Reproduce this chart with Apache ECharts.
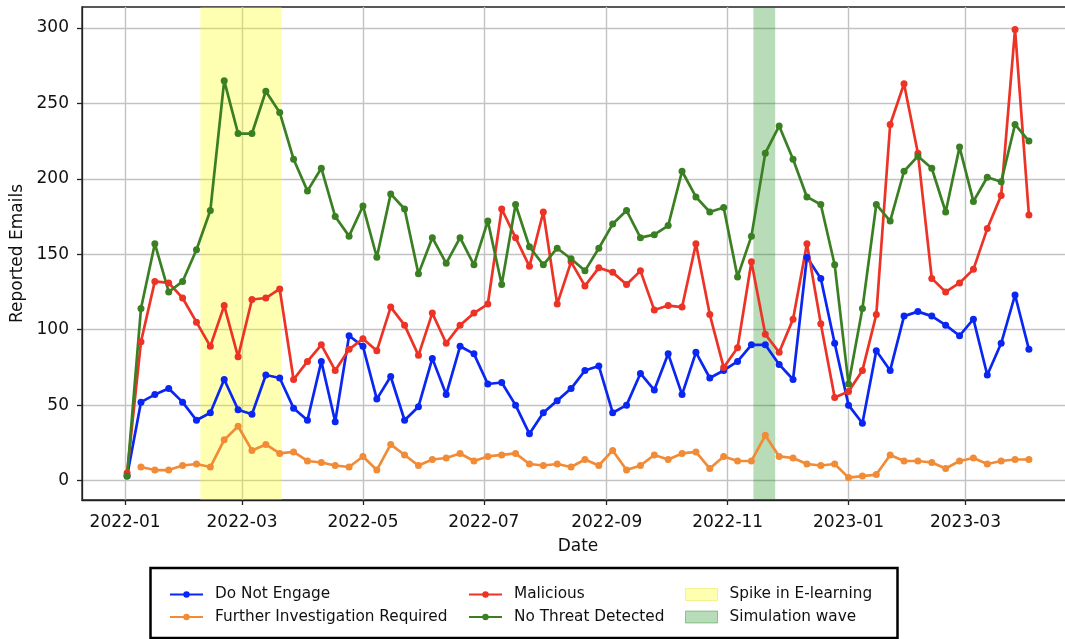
<!DOCTYPE html>
<html>
<head>
<meta charset="utf-8">
<script src="https://cdn.jsdelivr.net/npm/echarts@6/dist/echarts.min.js"></script>
<style>
  html, body { margin: 0; padding: 0; background: #fff; }
  #chart { width: 1065px; height: 639px; }
</style>
</head>
<body>
<div id="chart"></div>
<script>
// weekly report dates
var dates = [
  '2022-01-02','2022-01-09','2022-01-16','2022-01-23','2022-01-30',
  '2022-02-06','2022-02-13','2022-02-20','2022-02-27',
  '2022-03-06','2022-03-13','2022-03-20','2022-03-27',
  '2022-04-03','2022-04-10','2022-04-17','2022-04-24',
  '2022-05-01','2022-05-08','2022-05-15','2022-05-22','2022-05-29',
  '2022-06-05','2022-06-12','2022-06-19','2022-06-26',
  '2022-07-03','2022-07-10','2022-07-17','2022-07-24','2022-07-31',
  '2022-08-07','2022-08-14','2022-08-21','2022-08-28',
  '2022-09-04','2022-09-11','2022-09-18','2022-09-25',
  '2022-10-02','2022-10-09','2022-10-16','2022-10-23','2022-10-30',
  '2022-11-06','2022-11-13','2022-11-20','2022-11-27',
  '2022-12-04','2022-12-11','2022-12-18','2022-12-25',
  '2023-01-01','2023-01-08','2023-01-15','2023-01-22','2023-01-29',
  '2023-02-05','2023-02-12','2023-02-19','2023-02-26',
  '2023-03-05','2023-03-12','2023-03-19','2023-03-26',
  '2023-04-02'
];

var doNotEngage = [
  3, 52, 57, 61, 52, 40, 45, 67, 47, 44, 70, 68, 48, 40, 79, 39, 96,
  89, 54, 69, 40, 49, 81, 57, 89, 84, 64, 65, 50, 31, 45, 53, 61, 73,
  76, 45, 50, 71, 60, 84, 57, 85, 68, 73, 79, 90, 90, 77, 67, 148, 134,
  91, 50, 38, 86, 73, 109, 112, 109, 103, 96, 107, 70, 91, 123, 87
];
var furtherInvestigation = [
  null, 9, 7, 7, 10, 11, 9, 27, 36, 20, 24, 18, 19, 13, 12, 10, 9,
  16, 7, 24, 17, 10, 14, 15, 18, 13, 16, 17, 18, 11, 10, 11, 9, 14,
  10, 20, 7, 10, 17, 14, 18, 19, 8, 16, 13, 13, 30, 16, 15, 11, 10,
  11, 2, 3, 4, 17, 13, 13, 12, 8, 13, 15, 11, 13, 14, 14
];
var malicious = [
  5, 92, 132, 131, 121, 105, 89, 116, 82, 120, 121, 127, 67, 79, 90, 73, 87,
  94, 86, 115, 103, 83, 111, 91, 103, 111, 117, 180, 161, 142, 178, 117, 145,
  129, 141, 138, 130, 139, 113, 116, 115, 157, 110, 75, 88, 145, 97, 85, 107,
  157, 104, 55, 59, 73, 110, 236, 263, 217, 134, 125, 131, 140, 167, 189, 299, 176
];
var noThreat = [
  3, 114, 157, 125, 132, 153, 179, 265, 230, 230, 258, 244, 213, 192, 207, 175, 162,
  182, 148, 190, 180, 137, 161, 144, 161, 143, 172, 130, 183, 155, 143, 154, 147,
  139, 154, 170, 179, 161, 163, 169, 205, 188, 178, 181, 135, 162, 217, 235, 213,
  188, 183, 143, 64, 114, 183, 172, 205, 215, 207, 178, 221, 185, 201, 198, 236, 225
];

var eLearningSpike = ['2022-02-08', '2022-03-21'];
var simulationWave = ['2022-11-14', '2022-11-25'];

var monthTicks = ['2022-01-01','2022-03-01','2022-05-01','2022-07-01','2022-09-01','2022-11-01','2023-01-01','2023-03-01'];
var yTicks = [0, 50, 100, 150, 200, 250, 300];

function ts(s) {
  var p = s.split('-');
  return new Date(+p[0], +p[1] - 1, +p[2]).getTime();
}

var DAY = 24 * 3600 * 1000;
var xMin = ts(dates[0]) - 22.75 * DAY;
var xMax = ts(dates[dates.length - 1]) + 22.75 * DAY;
var tickTs = monthTicks.map(ts);

function pairs(vals) {
  return dates.map(function (d, i) { return [ts(d), vals[i]]; });
}

var fontFamily = 'DejaVu Sans';
var colors = {
  blue: '#0a26f2',
  orange: '#f28b36',
  red: '#ec3326',
  green: '#3b7f23'
};

function lineSeries(name, vals, color) {
  return {
    name: name,
    type: 'line',
    data: pairs(vals),
    symbol: 'circle',
    symbolSize: 7,
    z: 3,
    lineStyle: { width: 2.7, color: color },
    itemStyle: { color: color },
    connectNulls: false
  };
}

function bandSeries(name, range, color) {
  return {
    name: name,
    type: 'line',
    data: [],
    z: 1,
    itemStyle: { color: color },
    markArea: {
      silent: true,
      itemStyle: { color: color },
      data: [[{ xAxis: ts(range[0]) }, { xAxis: ts(range[1]) }]]
    }
  };
}

var chart = echarts.init(document.getElementById('chart'));

var legendBase = {
  orient: 'vertical',
  padding: 0,
  itemWidth: 33,
  itemHeight: 8,
  itemGap: 7.5,
  textStyle: { fontFamily: fontFamily, fontSize: 15.3, color: '#111', padding: [0, 0, 0, 7] }
};

chart.setOption({
  animation: false,
  grid: {
    left: 82, top: 7, width: 992, bottom: 139,
    outerBoundsMode: 'none',
    show: true, borderColor: '#222', borderWidth: 1.3
  },
  xAxis: {
    type: 'value',
    min: xMin,
    max: xMax,
    name: 'Date',
    nameLocation: 'middle',
    nameGap: 38,
    nameTextStyle: { fontFamily: fontFamily, fontSize: 17, color: '#111' },
    axisLine: { onZero: false, lineStyle: { color: '#222', width: 1.3 } },
    axisTick: { show: true, length: 5, lineStyle: { color: '#222', width: 1.3 }, customValues: tickTs },
    axisLabel: {
      customValues: tickTs,
      fontFamily: fontFamily, fontSize: 17, color: '#111', margin: 14,
      formatter: function (v) { return echarts.time.format(v, '{yyyy}-{MM}', false); }
    },
    splitLine: { show: true, lineStyle: { color: '#c2c2c2', width: 1.4 } }
  },
  yAxis: {
    type: 'value',
    min: -12.85,
    max: 313.85,
    name: 'Reported Emails',
    nameLocation: 'middle',
    nameGap: 55,
    nameTextStyle: { fontFamily: fontFamily, fontSize: 17, color: '#111' },
    axisLine: { show: true, lineStyle: { color: '#222', width: 1.3 } },
    axisTick: { show: true, length: 5, lineStyle: { color: '#222', width: 1.3 }, customValues: yTicks },
    axisLabel: { customValues: yTicks, fontFamily: fontFamily, fontSize: 17, color: '#111', margin: 13 },
    splitLine: { show: true, lineStyle: { color: '#c2c2c2', width: 1.4 } }
  },
  legend: [
    Object.assign({}, legendBase, { left: 169, top: 587, data: ['Do Not Engage', 'Further Investigation Required'] }),
    Object.assign({}, legendBase, { left: 468, top: 587, data: ['Malicious', 'No Threat Detected'] }),
    Object.assign({}, legendBase, {
      left: 685, top: 587, itemWidth: 32, itemHeight: 12,
      data: [
        { name: 'Spike in E-learning', icon: 'rect', itemStyle: { color: 'rgba(255,255,0,0.3)', borderColor: 'rgba(220,220,0,0.35)', borderWidth: 1 } },
        { name: 'Simulation wave', icon: 'rect', itemStyle: { color: 'rgba(0,128,0,0.28)', borderColor: 'rgba(0,110,0,0.35)', borderWidth: 1 } }
      ]
    })
  ],
  graphic: [{
    type: 'rect',
    shape: { x: 150.5, y: 568, width: 747, height: 70 },
    style: { fill: 'none', stroke: '#000', lineWidth: 2.5 },
    z: 10
  }],
  series: [
    lineSeries('Do Not Engage', doNotEngage, colors.blue),
    lineSeries('Further Investigation Required', furtherInvestigation, colors.orange),
    lineSeries('Malicious', malicious, colors.red),
    lineSeries('No Threat Detected', noThreat, colors.green),
    bandSeries('Spike in E-learning', eLearningSpike, 'rgba(255,255,0,0.3)'),
    bandSeries('Simulation wave', simulationWave, 'rgba(0,128,0,0.28)')
  ]
});
</script>
</body>
</html>
